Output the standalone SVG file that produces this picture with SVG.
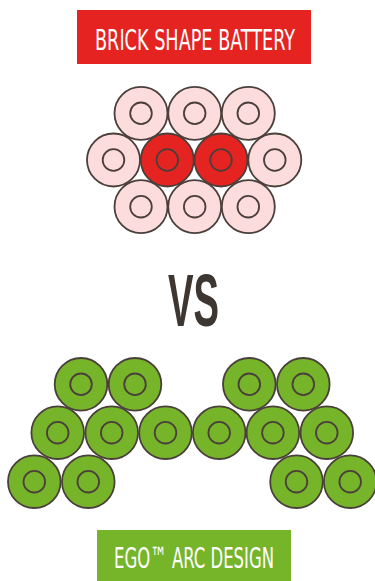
<svg xmlns="http://www.w3.org/2000/svg" width="375" height="581" viewBox="0 0 375 581">
<style>
.banner-text{font-family:"Liberation Sans Narrow","DejaVu Sans Condensed","Liberation Sans",sans-serif;fill:#ffffff;font-size:29px}
.vs{font-family:"Liberation Sans","DejaVu Sans",sans-serif;font-weight:bold;font-size:74px;fill:#3e3630}
.pink{fill:#fcdcdc;stroke:#4a3f3a;stroke-width:1.8}
.red{fill:#e52421;stroke:#4a3f3a;stroke-width:1.8}
.green{fill:#76b42a;stroke:#4a3f3a;stroke-width:1.8}
.core{fill:none;stroke:#4a3f3a;stroke-width:1.8}
</style>
<defs>
<g id="cellPink"><circle r="26.5" class="pink"/><circle r="10.8" class="core"/></g>
<g id="cellRed"><circle r="26.5" class="red"/><circle r="10.8" class="core"/></g>
<g id="cellGreen"><circle r="26.3" class="green"/><circle r="10.8" class="core"/></g>
</defs>
<rect width="375" height="581" fill="#ffffff"/>
<g id="title-brick">
<rect x="77" y="10" width="234" height="54" fill="#e52421"/>
<text class="banner-text" x="95" y="50" textLength="200" lengthAdjust="spacingAndGlyphs">BRICK SHAPE BATTERY</text>
</g>
<g id="brick-battery">
<use href="#cellPink" x="141" y="113.3"/>
<use href="#cellPink" x="194.7" y="113.3"/>
<use href="#cellPink" x="248.3" y="113.3"/>
<use href="#cellPink" x="113.5" y="160"/>
<use href="#cellRed" x="167.3" y="160"/>
<use href="#cellRed" x="221" y="160"/>
<use href="#cellPink" x="274.8" y="160"/>
<use href="#cellPink" x="141" y="206.7"/>
<use href="#cellPink" x="194.7" y="206.7"/>
<use href="#cellPink" x="248.3" y="206.7"/>
</g>
<g id="vs">
<text class="vs" x="168" y="326" textLength="51" lengthAdjust="spacingAndGlyphs">VS</text>
</g>
<g id="arc-battery">
<use href="#cellGreen" x="81" y="384.3"/>
<use href="#cellGreen" x="135" y="384.3"/>
<use href="#cellGreen" x="57.7" y="432.7"/>
<use href="#cellGreen" x="111.7" y="432.7"/>
<use href="#cellGreen" x="165.5" y="432.7"/>
<use href="#cellGreen" x="34.3" y="481.7"/>
<use href="#cellGreen" x="88.3" y="481.7"/>
<use href="#cellGreen" x="249.3" y="384.3"/>
<use href="#cellGreen" x="303.3" y="384.3"/>
<use href="#cellGreen" x="219.2" y="432.7"/>
<use href="#cellGreen" x="272.9" y="432.7"/>
<use href="#cellGreen" x="326.8" y="432.7"/>
<use href="#cellGreen" x="296.5" y="481.7"/>
<use href="#cellGreen" x="350.2" y="481.7"/>
</g>
<g id="title-ego">
<rect x="97" y="530" width="194" height="51" fill="#76b42a"/>
<text class="banner-text" x="114" y="568" textLength="160" lengthAdjust="spacingAndGlyphs">EGO™ ARC DESIGN</text>
</g>
</svg>
